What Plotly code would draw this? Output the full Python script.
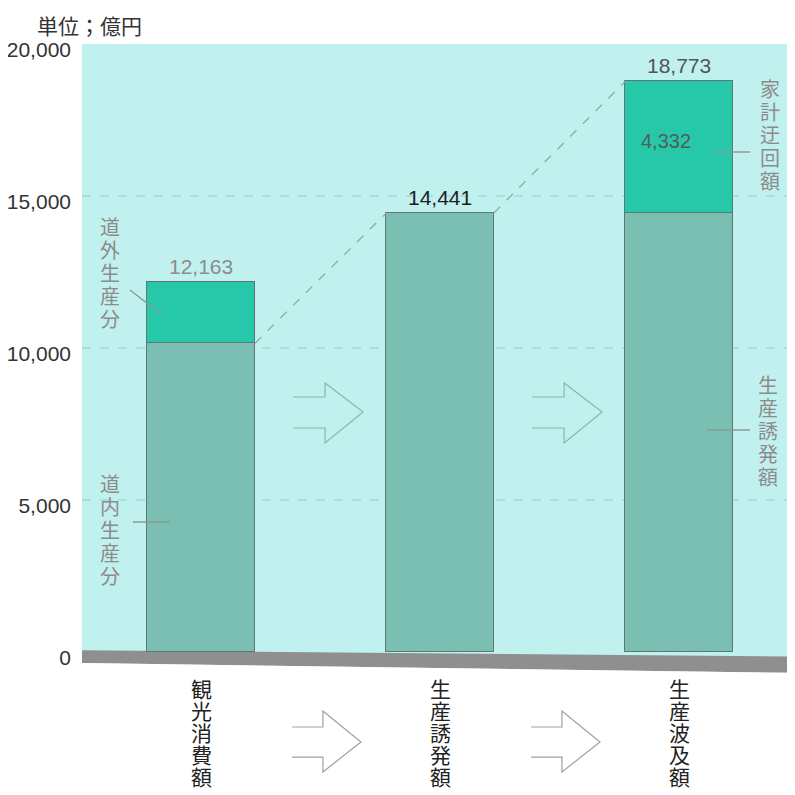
import plotly.graph_objects as go

# ---------------- data ----------------
categories = ["観光消費額", "生産誘発額", "生産波及額"]
lower_values = [10150, 14441, 14441]      # 道内生産分 / 生産誘発額
upper_values = [2013, 0, 4332]            # 道外生産分 / 家計迂回額
totals = [12163, 14441, 18773]
total_labels = ["12,163", "14,441", "18,773"]
upper_label = "4,332"
tick_vals = [0, 5000, 10000, 15000, 20000]
tick_text = ["0", "5,000", "10,000", "15,000", "20,000"]
unit_label = "単位；億円"
side_labels = {"outer": "道外生産分", "inner": "道内生産分",
               "household": "家計迂回額", "induced": "生産誘発額"}

# ---------------- style ----------------
CYAN = "#c1f1ee"
LOWER = "#7bbfb3"
UPPER = "#27c8aa"
EDGE = "#5d7772"
GRAYTXT = "#8c8c8c"
NUMFONT = "Liberation Sans Narrow, Liberation Sans, Arial, sans-serif"
JPFONT = "Noto Sans CJK JP, sans-serif"
BAR_W = 0.45
XMIN, XMAX = -0.498, 2.485
YMIN, YMAX = -757, 20000

x = list(range(len(categories)))

fig = go.Figure()
fig.add_trace(go.Bar(x=x, y=lower_values, width=BAR_W, marker=dict(color=LOWER, line=dict(color=EDGE, width=1.2)),
                     hoverinfo="skip"))
fig.add_trace(go.Bar(x=x, y=upper_values, width=BAR_W, marker=dict(color=UPPER, line=dict(color=EDGE, width=1.2)),
                     hoverinfo="skip"))

# dashed connectors between bars
fig.add_trace(go.Scatter(x=[0 + BAR_W / 2, 1 - BAR_W / 2], y=[lower_values[0], totals[1]], mode="lines",
                         line=dict(color="#96a8a6", width=1.3, dash="dash"), hoverinfo="skip"))
fig.add_trace(go.Scatter(x=[1 + BAR_W / 2, 2 - BAR_W / 2], y=[totals[1], totals[2]], mode="lines",
                         line=dict(color="#96a8a6", width=1.3, dash="dash"), hoverinfo="skip"))

shapes = []
# grid lines (dashed) at inner ticks
for tv in tick_vals[1:-1]:
    shapes.append(dict(type="line", xref="x", yref="y", x0=XMIN, x1=XMAX, y0=tv, y1=tv, layer="below",
                       line=dict(color="#93cfcb", width=1, dash="dash")))
# slanted grey floor
shapes.append(dict(type="path", xref="x", yref="y", layer="between",
                   path=f"M {XMIN},60 L {XMAX},-150 L {XMAX},-690 L {XMIN},-362 Z",
                   fillcolor="#8f8f8f", line=dict(width=0)))
# white area below floor
shapes.append(dict(type="path", xref="x", yref="y", layer="between",
                   path=f"M {XMIN},-362 L {XMAX},-690 L {XMAX},{YMIN - 50} L {XMIN},{YMIN - 50} Z",
                   fillcolor="white", line=dict(width=0)))

# outline arrows between bars (in plot) and between category labels (below)
def arrow_path(xl, xh, xt, ys_top, ys_bot, yh_top, yh_bot, yt):
    return (f"M {xl},{ys_top} L {xh},{ys_top} L {xh},{yh_top} L {xt},{yt} "
            f"L {xh},{yh_bot} L {xh},{ys_bot} L {xl},{ys_bot}")

for i in range(len(categories) - 1):
    shapes.append(dict(type="path", xref="x", yref="y", layer="above",
                       path=arrow_path(i + 0.385, i + 0.519, i + 0.678, 8388, 7368, 8849, 6875, 7895),
                       line=dict(color="#8fb3b0", width=1.2)))
    shapes.append(dict(type="path", xref="x", yref="paper", layer="above",
                       path=arrow_path(i + 0.381, i + 0.510, i + 0.669,
                                       -0.0824, -0.1300, -0.0571, -0.1537, -0.1062),
                       line=dict(color="#a0a0a0", width=1.2)))

# leader lines for side labels
leader = dict(color="#8a9a98", width=1.5)
shapes.append(dict(type="line", xref="x", yref="y", x0=-0.297, x1=-0.163, y0=11908, y1=11086, line=leader))
shapes.append(dict(type="line", xref="x", yref="y", x0=-0.285, x1=-0.130, y0=4276, y1=4276, line=leader))
shapes.append(dict(type="line", xref="x", yref="y", x0=2.151, x1=2.297, y0=16447, y1=16447, line=leader))
shapes.append(dict(type="line", xref="x", yref="y", x0=2.117, x1=2.297, y0=7303, y1=7303, line=leader))

annotations = []

def vtext(s, xv, yv, xref, yref, font, pitch, anchor="middle"):
    """Stack characters vertically, one annotation per character."""
    n = len(s)
    for k, ch in enumerate(s):
        if anchor == "middle":
            shift = ((n - 1) / 2 - k) * pitch
        else:  # top: first char center placed pitch/2 below anchor
            shift = -(k + 0.5) * pitch
        annotations.append(dict(x=xv, y=yv, xref=xref, yref=yref, text=ch, showarrow=False,
                                yshift=shift, font=font))

# value labels
val_colors = [GRAYTXT, "#1e1e1e", "#555555"]
for i, (t, lab) in enumerate(zip(totals, total_labels)):
    annotations.append(dict(x=i, y=t, xref="x", yref="y", text=lab, showarrow=False, yanchor="bottom", yshift=2,
                            font=dict(family=NUMFONT, size=21, color=val_colors[i])))
annotations.append(dict(x=2, y=lower_values[2] + upper_values[2] / 2, xref="x", yref="y", text=upper_label,
                        showarrow=False, xshift=-13, yshift=6,
                        font=dict(family=NUMFONT, size=20, color="#4f5d5b")))
# side labels
side_font = dict(family=JPFONT, size=20, color=GRAYTXT)
vtext(side_labels["outer"], -0.381, 12500, "x", "y", side_font, 23)
vtext(side_labels["inner"], -0.381, 4013, "x", "y", side_font, 23)
vtext(side_labels["household"], 2.381, 17039, "x", "y", side_font, 23)
vtext(side_labels["induced"], 2.372, 7270, "x", "y", side_font, 23)
# category labels (vertical, below axis)
cat_font = dict(family=JPFONT, size=21, color="#222222")
for i, c in enumerate(categories):
    vtext(c, i, -0.030, "x", "paper", cat_font, 22, anchor="top")
# unit label
annotations.append(dict(x=-0.066, y=1.030, xref="paper", yref="paper", text=unit_label, showarrow=False,
                        xanchor="left", yanchor="middle", font=dict(family=JPFONT, size=21, color="#333333")))

# the page places the figure 8px from the top-left corner, so the figure is 787px square
fig.update_layout(
    width=787, height=787,
    margin=dict(l=74, r=0, t=36, b=120, autoexpand=False),
    paper_bgcolor="white", plot_bgcolor=CYAN,
    barmode="stack", bargap=0, showlegend=False,
    shapes=shapes, annotations=annotations,
    xaxis=dict(range=[XMIN, XMAX], showticklabels=False, showgrid=False, zeroline=False, showline=False,
               fixedrange=True, automargin=False),
    yaxis=dict(range=[YMIN, YMAX], tickvals=tick_vals, ticktext=tick_text, showgrid=False, zeroline=False,
               showline=False, ticks="", ticklabelstandoff=10, ticklabelshift=6, automargin=False,
               tickfont=dict(family=NUMFONT, size=21, color="#333333"), fixedrange=True),
)

fig.write_html("out.html")
